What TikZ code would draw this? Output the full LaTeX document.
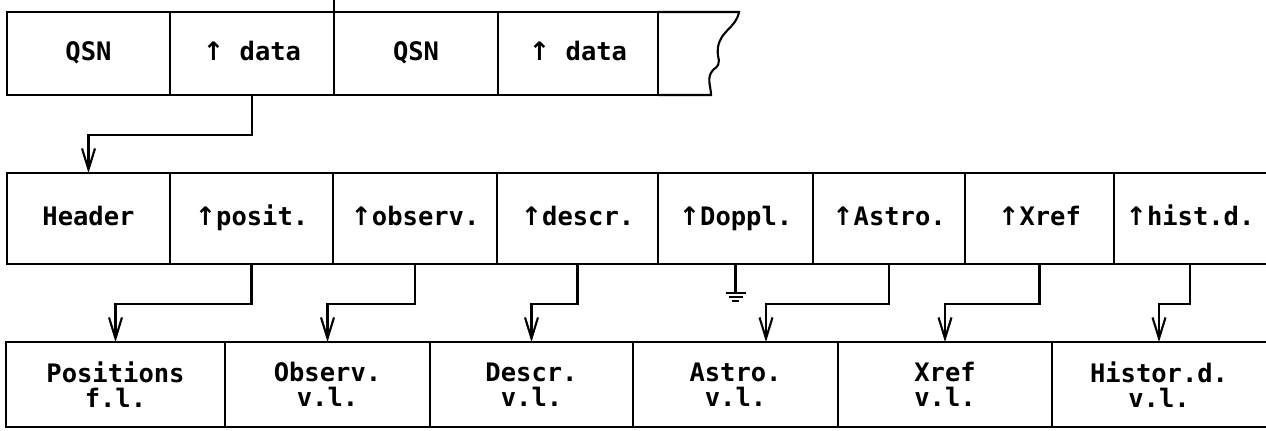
\documentclass[tikz,border=0pt]{standalone}
\usepackage{fontspec}
\setmonofont{DejaVu Sans Mono}
\newfontfamily\arrowfont{DejaVu Sans}
\newcommand\ptrup{{\arrowfont ↑}}
\usetikzlibrary{arrows.meta}

\tikzset{
  cellfont/.style={font=\ttfamily\bfseries\fontsize{14.5}{14.2}\selectfont},
  frame/.style={line width=1.2pt},
  cell/.style={draw, frame, inner sep=0pt, outer sep=0pt, align=center, cellfont},
  topcell/.style={cell, minimum height=1.66cm, text height=10.5pt, text depth=3pt},
  midcell/.style={cell, minimum height=1.82cm, text height=10.5pt, text depth=3pt},
  botcell/.style={cell, minimum height=1.70cm},
  wire/.style={line width=1.2pt},
  ptr/.style={wire, -{Straight Barb[length=0.42cm,width=0.26cm]}}
}

\begin{document}
\begin{tikzpicture}[x=0.02cm, y=-0.02cm]
  \useasboundingbox[fill=white] (0,0) rectangle (1266,430);
  % Top row
  \node[topcell, minimum width=3.26cm] (qsnA) at (88.5,53.5) {QSN};
  \node[topcell, minimum width=3.28cm] (dataA) at (252,53.5) {\ptrup\ data};
  \node[topcell, minimum width=3.28cm] (qsnB) at (416,53.5) {QSN};
  \node[topcell, minimum width=3.20cm] (dataB) at (578,53.5) {\ptrup\ data};
  \draw[frame] (dataB.north east) -- (739,12)
    .. controls (736,28) and (721,30) .. (718,47)
    .. controls (716,60) and (724,62) .. (713,70)
    .. controls (706,78) and (711,86) .. (711,95) -- (dataB.south east);
  \draw[frame] (qsnB.north west) -- ++(0,-12);
  % Middle row
  \node[midcell, minimum width=3.26cm] (header) at (88.5,218.5) {Header};
  \node[midcell, minimum width=3.26cm] (posit) at (251.5,218.5) {\ptrup posit.};
  \node[midcell, minimum width=3.28cm] (observ) at (415,218.5) {\ptrup observ.};
  \node[midcell, minimum width=3.22cm] (descr) at (577.5,218.5) {\ptrup descr.};
  \node[midcell, minimum width=3.10cm] (doppl) at (735.5,218.5) {\ptrup Doppl.};
  \node[midcell, minimum width=3.04cm] (astro) at (889,218.5) {\ptrup Astro.};
  \node[midcell, minimum width=2.98cm] (xref) at (1039.5,218.5) {\ptrup Xref};
  \node[midcell, draw=none, minimum width=3.04cm] (hist) at (1190,218.5) {\ptrup hist.d.};
  \draw[frame] ([xshift=0.2cm]hist.north east) -| (hist.south west)
    -- ([xshift=0.2cm]hist.south east);
  % Bottom row
  \node[botcell, minimum width=4.38cm] (fPositions) at (115.5,384.5) {Positions\\f.l.};
  \node[botcell, minimum width=4.10cm] (vObserv) at (327.5,384.5) {Observ.\\v.l.};
  \node[botcell, minimum width=4.06cm] (vDescr) at (531.5,384.5) {Descr.\\v.l.};
  \node[botcell, minimum width=4.10cm] (vAstro) at (735.5,384.5) {Astro.\\v.l.};
  \node[botcell, minimum width=4.28cm] (vXref) at (945,384.5) {Xref\\v.l.};
  \node[botcell, draw=none, minimum width=4.28cm] (vHistor) at (1159,384.5) {Histor.d.\\v.l.};
  \draw[frame] ([xshift=0.2cm]vHistor.north east) -| (vHistor.south west)
    -- ([xshift=0.2cm]vHistor.south east);
  % Pointers
  \coordinate (hiBend) at (0,135);
  \coordinate (loBend) at (0,304);
  \draw[ptr] (dataA.south) -- (dataA.south |- hiBend) -| (header.north);
  \draw[ptr] (posit.south) -- (posit.south |- loBend) -| (fPositions.north);
  \draw[ptr] (observ.south) -- (observ.south |- loBend) -| (vObserv.north);
  \draw[ptr] (descr.south) -- (descr.south |- loBend) -| (vDescr.north);
  \draw[ptr] (astro.south) -- (astro.south |- loBend) -| ([xshift=0.61cm]vAstro.north);
  \draw[ptr] (xref.south) -- (xref.south |- loBend) -| (vXref.north);
  \draw[ptr] (hist.south) -- (hist.south |- loBend) -| (vHistor.north);
  % Ground
  \draw[wire] (doppl.south) -- ++(0,29) coordinate (gnd);
  \draw[wire] ([xshift=-0.2cm]gnd) -- ([xshift=0.2cm]gnd);
  \draw[wire] ([xshift=-0.14cm,yshift=-0.08cm]gnd) -- ([xshift=0.14cm,yshift=-0.08cm]gnd);
  \draw[wire] ([xshift=-0.07cm,yshift=-0.16cm]gnd) -- ([xshift=0.07cm,yshift=-0.16cm]gnd);
\end{tikzpicture}
\end{document}
